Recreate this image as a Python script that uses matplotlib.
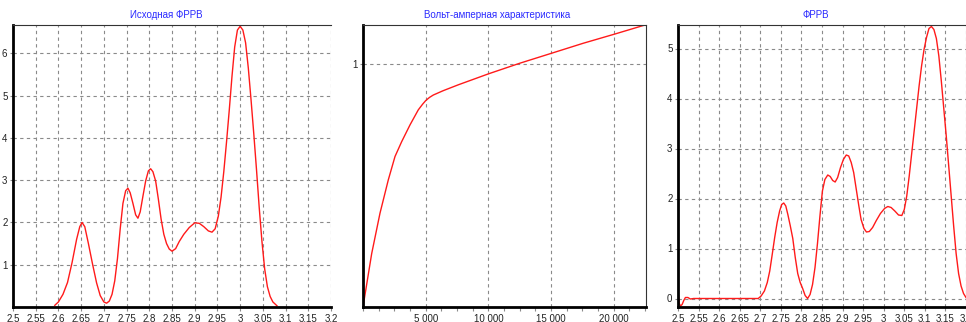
import matplotlib
matplotlib.use("Agg")
import matplotlib.pyplot as plt
from matplotlib.ticker import FixedLocator, MultipleLocator

plt.rcParams["font.family"] = ["Liberation Sans", "DejaVu Sans"]

W, H = 966, 322

# --- data ---
titles = ["Исходная ФРРВ", "Вольт-амперная характеристика", "ФРРВ"]

src_x = [2.592, 2.60, 2.61, 2.62, 2.63, 2.64, 2.647, 2.652, 2.658, 2.666,
         2.675, 2.684, 2.692, 2.70, 2.706, 2.712, 2.718, 2.724, 2.73, 2.736,
         2.742, 2.748, 2.753, 2.758, 2.764, 2.77, 2.775, 2.78, 2.786, 2.792,
         2.798, 2.803, 2.808, 2.814, 2.82, 2.826, 2.832, 2.838, 2.844, 2.85,
         2.858, 2.866, 2.876, 2.888, 2.90, 2.91, 2.92, 2.93, 2.938, 2.945,
         2.952, 2.958, 2.964, 2.97, 2.976, 2.982, 2.988, 2.994, 3.0, 3.006,
         3.012, 3.018, 3.024, 3.03, 3.036, 3.042, 3.048, 3.054, 3.06, 3.066,
         3.072, 3.081]
src_y = [0.04, 0.12, 0.30, 0.58, 1.05, 1.60, 1.90, 2.00, 1.90, 1.50,
         1.02, 0.57, 0.27, 0.12, 0.09, 0.14, 0.30, 0.62, 1.15, 1.85,
         2.45, 2.75, 2.81, 2.70, 2.45, 2.18, 2.10, 2.25, 2.62, 2.98,
         3.22, 3.27, 3.20, 2.98, 2.55, 2.08, 1.72, 1.50, 1.37, 1.32,
         1.38, 1.55, 1.72, 1.88, 1.99, 1.98, 1.90, 1.80, 1.77, 1.85,
         2.15, 2.60, 3.20, 3.90, 4.65, 5.45, 6.15, 6.55, 6.64, 6.55,
         6.25, 5.65, 4.90, 4.10, 3.25, 2.35, 1.55, 0.90, 0.48, 0.25,
         0.12, 0.03]

iv_x = [0, 694, 1356, 2018, 2552, 3083, 3748, 4410, 4750, 5000,
        5300, 5608, 6404, 7600, 10000, 12520, 15048, 17570, 20096, 22488]
iv_y = [0.0, 0.22, 0.386, 0.523, 0.619, 0.680, 0.749, 0.811, 0.834, 0.849,
        0.862, 0.872, 0.890, 0.914, 0.959, 1.003, 1.044, 1.085, 1.123, 1.160]

res_x = [2.5, 2.5005, 2.503, 2.506, 2.51, 2.514, 2.518, 2.524, 2.53, 2.538,
         2.695, 2.702, 2.71, 2.717, 2.723, 2.729, 2.735, 2.741, 2.747, 2.752,
         2.757, 2.762, 2.767, 2.773, 2.779, 2.785, 2.791, 2.797, 2.803, 2.809,
         2.815, 2.821, 2.827, 2.833, 2.839, 2.845, 2.851, 2.857, 2.864, 2.87,
         2.876, 2.882, 2.888, 2.895, 2.902, 2.909, 2.915, 2.921, 2.927, 2.933,
         2.939, 2.945, 2.952, 2.958, 2.965, 2.973, 2.982, 2.992, 3.002, 3.01,
         3.018, 3.027, 3.036, 3.044, 3.05, 3.056, 3.062, 3.068, 3.074, 3.08,
         3.086, 3.092, 3.098, 3.104, 3.11, 3.116, 3.122, 3.128, 3.134, 3.14,
         3.146, 3.152, 3.158, 3.164, 3.17, 3.176, 3.182, 3.188, 3.194, 3.2]
res_y = [0.43, 0.10, -0.10, -0.15, -0.12, -0.04, 0.02, 0.02, -0.01, 0.0,
         0.0, 0.05, 0.15, 0.32, 0.55, 0.88, 1.22, 1.52, 1.75, 1.88,
         1.91, 1.85, 1.68, 1.45, 1.20, 0.82, 0.50, 0.32, 0.20, 0.06,
         0.0, 0.08, 0.28, 0.62, 1.10, 1.65, 2.15, 2.38, 2.47, 2.44,
         2.36, 2.33, 2.42, 2.62, 2.78, 2.87, 2.85, 2.72, 2.52, 2.20,
         1.88, 1.58, 1.40, 1.33, 1.34, 1.42, 1.56, 1.70, 1.80, 1.84,
         1.82, 1.75, 1.67, 1.66, 1.78, 2.05, 2.45, 2.90, 3.35, 3.80,
         4.25, 4.65, 4.98, 5.22, 5.40, 5.44, 5.38, 5.20, 4.85, 4.35,
         3.80, 3.25, 2.65, 2.05, 1.45, 0.90, 0.50, 0.25, 0.10, 0.02]

dist_ticks = [2.5, 2.55, 2.6, 2.65, 2.7, 2.75, 2.8, 2.85, 2.9, 2.95,
              3.0, 3.05, 3.1, 3.15, 3.2]
dist_labels = ["2.5", "2.55", "2.6", "2.65", "2.7", "2.75", "2.8", "2.85",
               "2.9", "2.95", "3", "3.05", "3.1", "3.15", "3.2"]
iv_ticks = [5000, 10000, 15000, 20000]
iv_labels = ["5 000", "10 000", "15 000", "20 000"]


def px_axes(fig, left, top, right, bottom):
    return fig.add_axes([left / W, 1 - bottom / H, (right - left) / W, (bottom - top) / H])


def style(ax, right_spine):
    ax.grid(True, color="#8a8a8a", linestyle=(0, (3, 3)), linewidth=0.8)
    ax.set_axisbelow(True)
    ax.spines["left"].set_linewidth(2)
    ax.spines["bottom"].set_linewidth(2)
    ax.spines["top"].set_linewidth(0.8)
    ax.spines["top"].set_color("#333333")
    if right_spine:
        ax.spines["right"].set_linewidth(0.8)
        ax.spines["right"].set_color("#333333")
    else:
        ax.spines["right"].set_visible(False)
    ax.tick_params(which="both", direction="out", length=3, width=0.8,
                   color="#8a8a8a", labelsize=7, labelcolor="#222222", pad=2)
    ax.tick_params(axis="y", length=2)


fig = plt.figure(figsize=(W / 100, H / 100), dpi=100)

# panel 1
ax1 = px_axes(fig, 13, 25, 331, 307)
ax1.plot(src_x, src_y, color="#ff1a1a", linewidth=1)
ax1.set_xlim(2.5, 3.2)
ax1.set_ylim(0, 6.67)
ax1.xaxis.set_major_locator(FixedLocator(dist_ticks))
ax1.set_xticklabels(dist_labels)
ax1.set_yticks([1, 2, 3, 4, 5, 6])
style(ax1, right_spine=False)

# panel 2
ax2 = px_axes(fig, 363, 25, 646, 307)
ax2.plot(iv_x, iv_y, color="#ff1a1a", linewidth=1)
ax2.set_xlim(0, 22570)
ax2.set_ylim(0, 1.16)
ax2.xaxis.set_major_locator(FixedLocator(iv_ticks))
ax2.set_xticklabels(iv_labels)
ax2.xaxis.set_minor_locator(MultipleLocator(1250))
ax2.set_yticks([1])
style(ax2, right_spine=True)
ax2.grid(False, which="minor")

# panel 3
ax3 = px_axes(fig, 678, 25, 966, 307)
ax3.plot(res_x, res_y, color="#ff1a1a", linewidth=1)
ax3.set_xlim(2.5, 3.2)
ax3.set_ylim(-0.17, 5.47)
ax3.xaxis.set_major_locator(FixedLocator(dist_ticks))
ax3.set_xticklabels(dist_labels)
ax3.set_yticks([0, 1, 2, 3, 4, 5])
style(ax3, right_spine=False)

for x, t in zip([166, 497, 816], titles):
    fig.text(x / W, 1 - 15 / H, t, ha="center", va="center",
             color="#2a2aff", fontsize=7)

fig.savefig("out.png", dpi=100)
